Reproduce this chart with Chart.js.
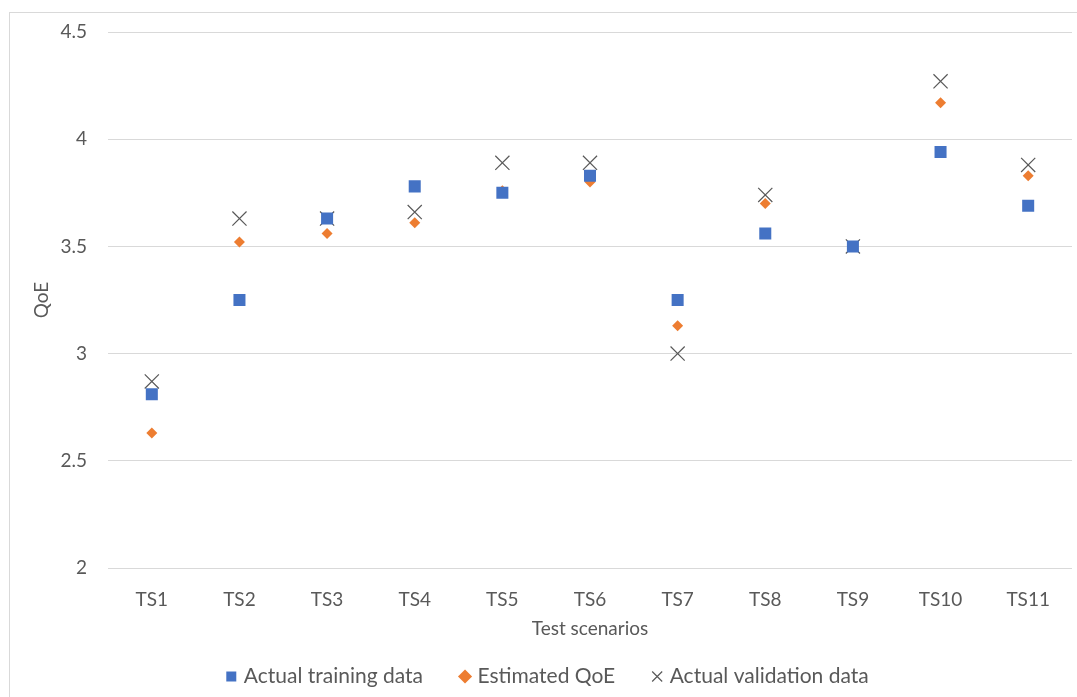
<!DOCTYPE html>
<html>
<head>
<meta charset="utf-8">
<script src="https://cdn.jsdelivr.net/npm/chart.js@4.4.0/dist/chart.umd.min.js"></script>
<style>
  html, body { margin: 0; padding: 0; background: #fff; overflow: hidden; }
  #wrap {
    position: absolute; left: 9px; top: 12px;
    width: 1067px; height: 684px;
    border-left: 1px solid #d9d9d9; border-top: 1px solid #d9d9d9;
  }
</style>
</head>
<body>
<div id="wrap"><canvas id="qoeChart"></canvas></div>
<script>
// Test scenarios and QoE readings
const scenarios = ["TS1", "TS2", "TS3", "TS4", "TS5", "TS6", "TS7", "TS8", "TS9", "TS10", "TS11"];
const trainingData = [2.81, 3.25, 3.63, 3.78, 3.75, 3.83, 3.25, 3.56, 3.5, 3.94, 3.69];
const estimatedQoE = [2.63, 3.52, 3.56, 3.61, 3.76, 3.8, 3.13, 3.7, 3.5, 4.17, 3.83];
const validationData = [2.87, 3.63, 3.63, 3.66, 3.89, 3.89, 3.0, 3.74, 3.5, 4.27, 3.88];

const textColor = "#595959";
const fontFamily = "Lato, 'Open Sans', sans-serif";
const hidden = "rgba(0,0,0,0)";

const ctx = document.getElementById("qoeChart").getContext("2d");

new Chart(ctx, {
  type: "line",
  data: {
    labels: scenarios,
    datasets: [
      {
        label: "Actual training data",
        data: trainingData,
        showLine: false,
        pointStyle: "rect",
        pointRadius: 8.5,
        pointHoverRadius: 8.5,
        backgroundColor: "#4472C4",
        borderColor: "#4472C4",
        borderWidth: 0
      },
      {
        label: "Estimated QoE",
        data: estimatedQoE,
        showLine: false,
        pointStyle: "rectRot",
        pointRadius: 5.5,
        pointHoverRadius: 5.5,
        backgroundColor: "#ED7D31",
        borderColor: "#ED7D31",
        borderWidth: 0
      },
      {
        label: "Actual validation data",
        data: validationData,
        showLine: false,
        pointStyle: "crossRot",
        pointRadius: 10,
        pointHoverRadius: 10,
        backgroundColor: "#595959",
        borderColor: "#595959",
        borderWidth: 1.2
      }
    ]
  },
  options: {
    responsive: true,
    maintainAspectRatio: false,
    animation: false,
    layout: { autoPadding: false, padding: { top: 19, right: 5, left: 16, bottom: 0 } },
    plugins: {
      legend: {
        display: true,
        position: "bottom",
        labels: {
          usePointStyle: true,
          color: textColor,
          font: { family: fontFamily, size: 21 },
          padding: 40,
          boxHeight: 10,
          boxWidth: 4
        }
      },
      tooltip: { enabled: false }
    },
    scales: {
      x: {
        offset: true,
        // transparent tick marks keep the label gap without padding the scale ends
        grid: { display: true, color: hidden, drawTicks: true, tickLength: 20, tickColor: hidden, offset: true },
        border: { display: false },
        ticks: { color: textColor, font: { family: fontFamily, size: 19 }, padding: 0 },
        title: { display: true, text: "Test scenarios", color: textColor, font: { family: fontFamily, size: 19 }, padding: { top: 4, bottom: -14 } },
        afterFit: scale => {
          scale.height = 58;
          scale.paddingLeft = 0;
          scale.paddingRight = 0;
        }
      },
      y: {
        min: 2,
        max: 4.5,
        grid: { color: "#d9d9d9", drawTicks: true, tickLength: 21, tickColor: hidden, lineWidth: 1 },
        border: { display: false },
        ticks: {
          stepSize: 0.5,
          color: textColor,
          font: { family: fontFamily, size: 19 },
          padding: 0,
          callback: value => String(value)
        },
        title: { display: true, text: "QoE", color: textColor, font: { family: fontFamily, size: 19 } },
        afterFit: scale => { scale.width = 82; }
      }
    }
  }
});
</script>
</body>
</html>
